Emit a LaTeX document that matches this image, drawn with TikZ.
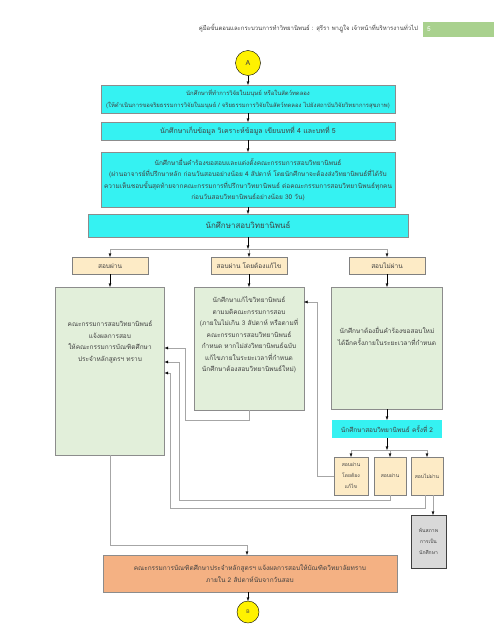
\documentclass[tikz,border=0pt]{standalone}
\usepackage{fontspec}
\newfontfamily\thaifont[Script=Thai]{Loma}
\newcommand\boxfont{\thaifont\fontsize{6.5}{11.5}\selectfont}
\newcommand\tinyfont{\thaifont\fontsize{5}{11}\selectfont}
\usetikzlibrary{%
    positioning,
    arrows.meta
}
\definecolor{boxcyan}{HTML}{35F2F2}
\definecolor{boxtan}{HTML}{FDEBC6}
\definecolor{boxgreen}{HTML}{E2EFDA}
\definecolor{boxorange}{HTML}{F4B183}
\definecolor{boxgray}{HTML}{D9D9D9}
\definecolor{headgreen}{HTML}{A9D18E}
\definecolor{edgegray}{HTML}{8C8C8C}
\definecolor{wiregray}{HTML}{A6A6A6}
\definecolor{inkgray}{HTML}{404040}
\tikzset{
    every node/.style = {
        rectangle, draw=edgegray, thin,
        text=inkgray, font=\boxfont,
        align=center, inner sep=1pt,
        outer sep=0pt,
    },
    flow/.style = {black, thin, -{Latex[length=3.5pt,width=3pt]}},
    wire/.style = {wiregray, thin},
    wireto/.style = {wiregray, thin, -{Latex[length=3.5pt,width=3pt,color=black]}},
}

\begin{document}
\begin{tikzpicture}[x=1pt, y=1pt]
    \useasboundingbox (0,0) rectangle (494,-640);
    % page header
    \node[
        draw=none,
        font=\thaifont\fontsize{6}{7}\selectfont,
        anchor=east
    ] (title) at (419,-29) {คู่มือขั้นตอนและกระบวนการทำวิทยานิพนธ์ : สุรีรา พาฎูใจ  เจ้าหน้าที่บริหารงานทั่วไป};
    \node[
        draw=none,
        fill=headgreen,
        text=white,
        text width = 63pt,
        align=left,
        inner sep=4pt,
        minimum height = 15pt,
        anchor=west
    ] (page) at (423,-29.5) {5};

    % main column
    \node[
        circle,
        draw=black,
        fill=yellow,
        inner sep=0pt,
        minimum size = 25pt,
        font=\thaifont\fontsize{7}{8}\selectfont
    ] (startA) at (248,-63) {A};
    \node[
        fill=boxcyan,
        minimum width = 294pt,
        minimum height = 28pt,
        font=\thaifont\fontsize{5.9}{11.5}\selectfont,
        below=9.5pt of startA
    ] (ethics) {นักศึกษาที่ทำการวิจัยในมนุษย์ หรือในสัตว์ทดลอง\\
        (ให้ดำเนินการขอจริยธรรมการวิจัยในมนุษย์ / จริยธรรมการวิจัยในสัตว์ทดลอง ไปยังสถาบันวิจัยวิทยาการสุขภาพ)};
    \node[
        fill=boxcyan,
        minimum width = 294pt,
        minimum height = 18pt,
        font=\thaifont\fontsize{7}{11.5}\selectfont,
        below=9pt of ethics
    ] (collect) {นักศึกษาเก็บข้อมูล วิเคราะห์ข้อมูล เขียนบทที่ 4 และบทที่ 5};
    \node[
        fill=boxcyan,
        minimum width = 294pt,
        minimum height = 55pt,
        below=12pt of collect
    ] (request) {นักศึกษายื่นคำร้องขอสอบและแต่งตั้งคณะกรรมการสอบวิทยานิพนธ์\\
        (ผ่านอาจารย์ที่ปรึกษาหลัก ก่อนวันสอบอย่างน้อย 4 สัปดาห์  โดยนักศึกษาจะต้องส่งวิทยานิพนธ์ที่ได้รับ\\
        ความเห็นชอบขั้นสุดท้ายจากคณะกรรมการที่ปรึกษาวิทยานิพนธ์ ต่อคณะกรรมการสอบวิทยานิพนธ์ทุกคน\\
        ก่อนวันสอบวิทยานิพนธ์อย่างน้อย 30 วัน)};
    \node[
        fill=boxcyan,
        minimum width = 320pt,
        minimum height = 23pt,
        font=\thaifont\fontsize{8}{11.5}\selectfont,
        below=7pt of request
    ] (exam) {นักศึกษาสอบวิทยานิพนธ์};

    % first exam results
    \node[
        fill=boxtan,
        draw=gray,
        minimum width = 76pt,
        minimum height = 17pt
    ] (pass) at (110,-265.5) {สอบผ่าน};
    \node[
        fill=boxtan,
        draw=gray,
        minimum width = 76pt,
        minimum height = 17pt
    ] (fix) at (249,-265.5) {สอบผ่าน โดยต้องแก้ไข};
    \node[
        fill=boxtan,
        draw=gray,
        minimum width = 76pt,
        minimum height = 17pt
    ] (fail) at (387,-265.5) {สอบไม่ผ่าน};

    \node[
        fill=boxgreen,
        minimum width = 109pt,
        minimum height = 168pt,
        text depth = 60pt,
        below=13pt of pass
    ] (informed) {คณะกรรมการสอบวิทยานิพนธ์\\
        แจ้งผลการสอบ\\
        ให้คณะกรรมการบัณฑิตศึกษา\\
        ประจำหลักสูตรฯ ทราบ};
    \node[
        fill=boxgreen,
        minimum width = 110pt,
        minimum height = 123pt,
        text depth = 28pt,
        below=13pt of fix
    ] (fixed) {นักศึกษาแก้ไขวิทยานิพนธ์\\
        ตามมติคณะกรรมการสอบ\\
        (ภายในไม่เกิน 3 สัปดาห์ หรือตามที่\\
        คณะกรรมการสอบวิทยานิพนธ์\\
        กำหนด หากไม่ส่งวิทยานิพนธ์ฉบับ\\
        แก้ไขภายในระยะเวลาที่กำหนด\\
        นักศึกษาต้องสอบวิทยานิพนธ์ใหม่)};
    \node[
        fill=boxgreen,
        minimum width = 111pt,
        minimum height = 122pt,
        text depth = 24pt,
        below=13pt of fail
    ] (retake) {นักศึกษาต้องยื่นคำร้องขอสอบใหม่\\
        ได้อีกครั้งภายในระยะเวลาที่กำหนด};

    % second exam
    \node[
        fill=boxcyan,
        draw=none,
        minimum width = 110pt,
        minimum height = 18pt,
        below=11pt of retake
    ] (exam2) {นักศึกษาสอบวิทยานิพนธ์ ครั้งที่ 2};
    \node[
        fill=boxtan,
        draw=gray,
        font=\tinyfont,
        minimum width = 34pt,
        minimum height = 38pt
    ] (fix2) at (351,-476) {สอบผ่าน\\ โดยต้อง\\ แก้ไข};
    \node[
        fill=boxtan,
        draw=gray,
        font=\tinyfont,
        minimum width = 32pt,
        minimum height = 38pt
    ] (pass2) at (390,-476) {สอบผ่าน};
    \node[
        fill=boxtan,
        draw=gray,
        font=\tinyfont,
        minimum width = 32pt,
        minimum height = 38pt
    ] (fail2) at (427,-476) {สอบไม่ผ่าน};
    \node[
        fill=boxgray,
        draw=inkgray,
        font=\tinyfont,
        minimum width = 35pt,
        minimum height = 53pt
    ] (dropout) at (428.5,-541.5) {พ้นสภาพ\\ การเป็น\\ นักศึกษา};

    \node[
        fill=boxorange,
        minimum width = 294pt,
        minimum height = 37pt
    ] (report) at (250,-573.5) {คณะกรรมการบัณฑิตศึกษาประจำหลักสูตรฯ แจ้งผลการสอบให้บัณฑิตวิทยาลัยทราบ\\
        ภายใน 2 สัปดาห์นับจากวันสอบ};
    \node[
        circle,
        draw=black,
        fill=yellow,
        inner sep=0pt,
        minimum size = 22pt,
        font=\thaifont\fontsize{5}{6}\selectfont,
        below=9pt of report.south -| startA
    ] (endB) {B};

    % connectors
    \draw[flow] (startA) -- (ethics);
    \draw[flow] (ethics) -- (collect);
    \draw[flow] (collect) -- (request);
    \draw[flow] (request) -- (exam);

    \coordinate (split) at ([yshift=-12pt]exam.south);
    \draw[flow] (exam.south) -- (split);
    \draw[wire] (pass.north |- split) -- (fail.north |- split);
    \foreach \res in {pass, fix, fail}
        \draw[wireto] (\res.north |- split) -- (\res.north);
    \foreach \res/\body in {pass/informed, fix/fixed, fail/retake}
        \draw[flow] (\res) -- (\body);

    \draw[flow] (retake) -- (exam2);
    \coordinate (split2) at ([yshift=-12pt]exam2.south);
    \draw[flow] (exam2.south) -- (split2);
    \draw[wire] (fix2.north |- split2) -- (fail2.north |- split2);
    \foreach \res in {fix2, pass2, fail2}
        \draw[wireto] (\res.north |- split2) -- (\res.north);

    \coordinate (in1) at ([yshift=-61pt]informed.north east);
    \coordinate (in2) at ([yshift=-75pt]informed.north east);
    \coordinate (in3) at ([yshift=-86pt]informed.north east);
    \draw[wireto] (fix2.west) -- ++(-17pt,0) |- ([yshift=-15pt]fixed.north east);
    \draw[wireto] (fixed.south) -- ++(0,-10pt) -| ([xshift=21pt]in1) -- (in1);
    \draw[wireto] (pass2.south) -- ++(0,-5pt) -| ([xshift=15pt]in2) -- (in2);
    \draw[wireto] ([xshift=-2pt]fail2.south) -- ++(0,-13pt) -| ([xshift=6pt]in3) -- (in3);
    \draw[wireto] ([xshift=6pt]fail2.south) -- ([xshift=6pt]fail2.south |- dropout.north);
    \draw[wireto] (informed.south) -- ++(0,-90pt) -| ([xshift=-3pt]report.north);
    \draw[flow] (report.south -| endB) -- (endB);
\end{tikzpicture}
\end{document}
